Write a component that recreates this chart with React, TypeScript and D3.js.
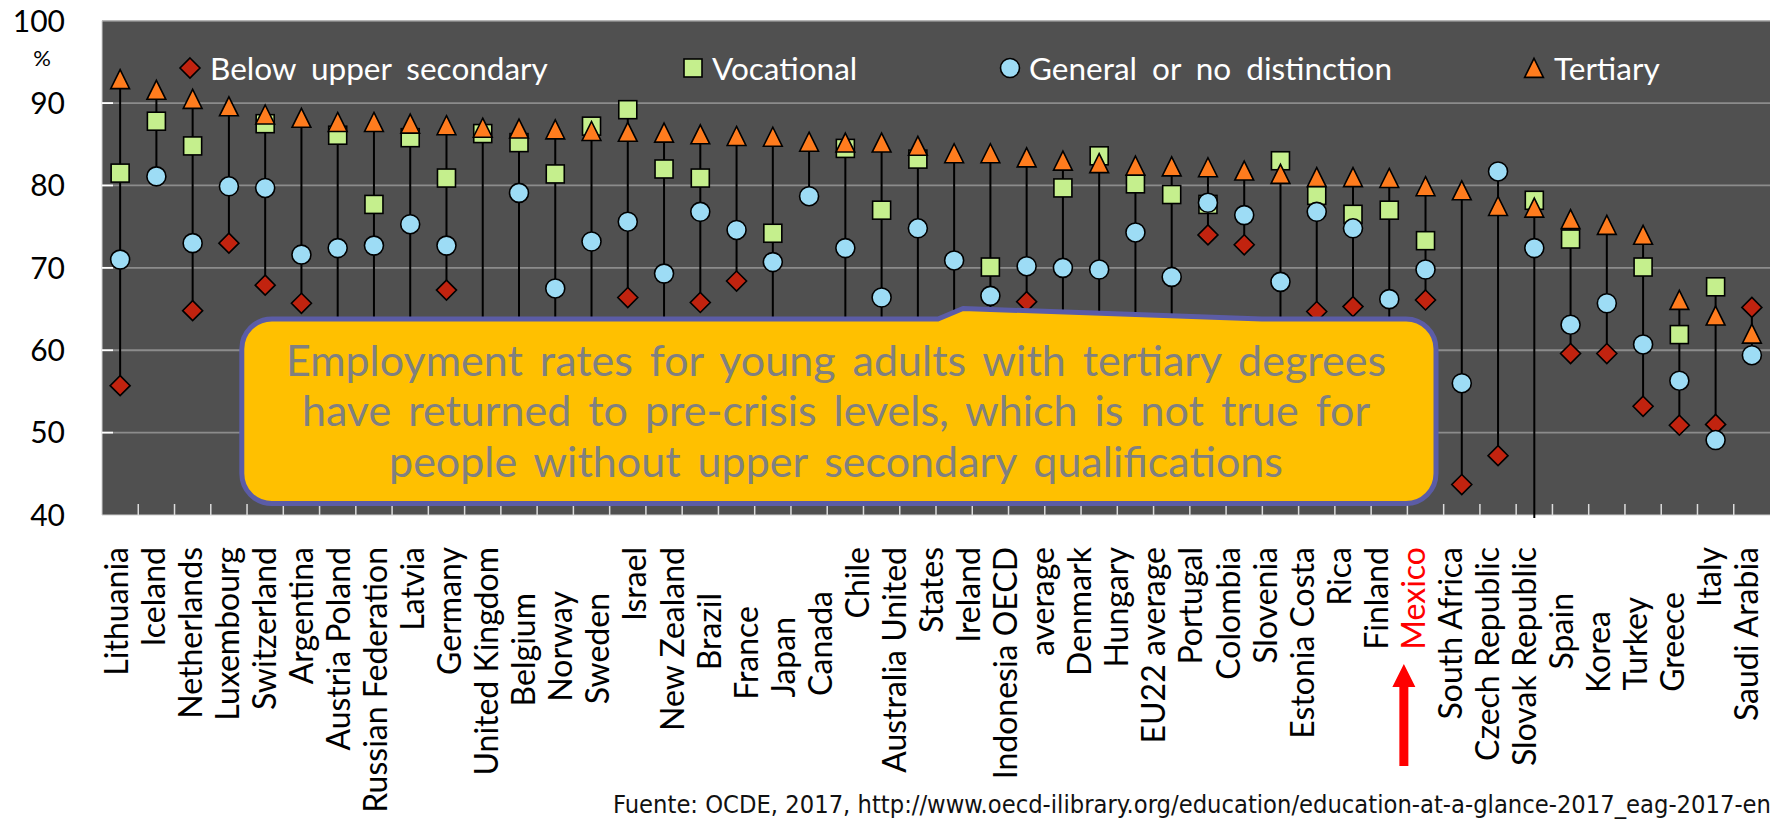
import React from "react";
import * as d3 from "d3";

// ---------- DATA ----------
const countries = [
  "Lithuania", "Iceland", "Netherlands", "Luxembourg", "Switzerland", "Argentina",
  "Austria", "Poland", "Russian Federation", "Latvia", "Germany", "United Kingdom",
  "Belgium", "Norway", "Sweden", "Israel", "New Zealand", "Brazil", "France", "Japan",
  "Canada", "Chile", "Australia", "United States", "Ireland", "Indonesia", "OECD average",
  "Denmark", "Hungary", "EU22 average", "Portugal", "Colombia", "Slovenia", "Estonia",
  "Costa Rica", "Finland", "Mexico", "South Africa", "Czech Republic", "Slovak Republic",
  "Spain", "Korea", "Turkey", "Greece", "Italy", "Saudi Arabia",
];

const tertiary = [
  92.9, 91.6, 90.5, 89.6, 88.6, 88.2, 87.7, 87.7, 87.5, 87.3, 87.0, 86.9,
  86.8, 86.6, 86.5, 86.4, 86.2, 86.0, 85.9, 85.3, 85.2, 85.2, 84.8, 83.9,
  83.9, 83.4, 83.0, 82.7, 82.4, 82.3, 82.2, 81.8, 81.4, 81.0, 81.0, 80.9,
  79.9, 79.4, 77.5, 77.3, 75.9, 75.2, 74.0, 66.1, 64.2, 62.0,
];

const vocational: (number | null)[] = [
  81.5, 87.8, 84.8, null, 87.5, null, 86.1, 77.7, 85.8, 80.9, 86.3, 85.2,
  81.4, 87.2, 89.2, 82.0, 80.9, null, 74.2, null, 84.5, 77.0, 83.2, null,
  70.1, null, 79.7, 83.6, 80.2, 78.9, 77.7, null, 83.0, 78.8, 76.5, 77.0,
  73.3, null, null, 78.2, 73.5, null, 70.1, 61.9, 67.7, null,
];

const general: (number | null)[] = [
  71.0, 81.1, 73.0, 79.9, 79.7, 71.6, 72.4, 72.7, 75.3, 72.7, null, 79.1,
  67.5, 73.2, 75.6, 69.3, 76.8, 74.6, 70.7, 78.7, 72.4, 66.4, 74.8, 70.9,
  66.6, 70.2, 70.0, 69.8, 74.3, 68.9, 77.9, 76.4, 68.3, 76.8, 74.8, 66.2,
  69.8, 56.0, 81.7, 72.4, 63.1, 65.7, 60.7, 56.3, 49.1, 59.4,
];

const belowUpper: (number | null)[] = [
  55.7, null, 64.8, 73.0, 67.9, 65.7, 53.0, 47.0, 52.0, 67.3, 58.0, 61.0,
  47.0, 59.0, 66.4, 58.0, 65.8, 68.4, 52.0, null, 55.0, 61.0, 58.0, 56.0,
  52.0, 65.9, 58.0, 56.0, 55.0, 55.0, 74.0, 72.8, 56.0, 64.7, 65.3, 50.0,
  66.1, 43.7, 47.2, 38.5, 59.6, 59.6, 53.2, 50.9, 51.0, 65.2,
];

// axis labels as they appear (wrapped text merged in the original)
const axisLabels = [
  "Lithuania", "Iceland", "Netherlands", "Luxembourg", "Switzerland", "Argentina",
  "Austria Poland", "Russian Federation", "Latvia", "Germany", "United Kingdom",
  "Belgium", "Norway", "Sweden", "Israel", "New Zealand", "Brazil", "France", "Japan",
  "Canada", "Chile", "Australia United", "States", "Ireland", "Indonesia OECD", "average",
  "Denmark", "Hungary", "EU22 average", "Portugal", "Colombia", "Slovenia", "Estonia Costa",
  "Rica", "Finland", "Mexico", "South Africa", "Czech Republic", "Slovak Republic",
  "Spain", "Korea", "Turkey", "Greece", "Italy", "Saudi Arabia",
];
const highlightLabel = "Mexico";

const yTicks = [40, 50, 60, 70, 80, 90, 100];
const gridTicks = [50, 60, 70, 80, 90];

const legendNames = ["Below upper secondary", "Vocational", "General or no distinction", "Tertiary"];

const calloutLines = [
  "Employment rates for young adults with tertiary degrees",
  "have returned to pre-crisis levels, which is not true for",
  "people without upper secondary qualifications",
];

const sourceText =
  "Fuente: OCDE, 2017, http://www.oecd-ilibrary.org/education/education-at-a-glance-2017_eag-2017-en";

// ---------- LAYOUT (not data) ----------
const W = 1775;
const H = 821;
const M = { left: 102, right: 1770, top: 20.7, bottom: 515 };
// vertical drop of some wrapped axis labels (px)
const labelDrop = [
  0, 0, 0, 0, 0, 0, 0, 0, 0, 0, 0, 46, 44, 46, 0, 0, 46, 59, 70, 44, 0, 0, 0,
  0, 0, 0, 0, 0, 0, 0, 0, 0, 0, 0, 0, 0, 0, 0, 0, 46, 64, 50, 45, 0, 0,
];

const FONT = "Lato, 'Open Sans', sans-serif";
const COLORS = {
  bg: "#505050",
  grid: "#8c8c8c",
  diamond: "#C1230F",
  square: "#C5EF8D",
  circle: "#9DDCF5",
  triangle: "#FF7C1E",
};

const diamondPath = "M0,-10L10,0L0,10L-10,0Z";
const trianglePath = "M0,-9.6L9.4,9.4L-9.4,9.4Z";

function Marker({ kind, x, y }: { kind: string; x: number; y: number }) {
  const common = { stroke: "#000", strokeWidth: 1.6 };
  if (kind === "diamond")
    return <path d={diamondPath} transform={`translate(${x},${y})`} fill={COLORS.diamond} {...common} />;
  if (kind === "square")
    return <rect x={x - 9} y={y - 9} width={18} height={18} fill={COLORS.square} {...common} />;
  if (kind === "circle") return <circle cx={x} cy={y} r={9.5} fill={COLORS.circle} {...common} />;
  return <path d={trianglePath} transform={`translate(${x},${y})`} fill={COLORS.triangle} {...common} />;
}

export default function App() {
  const x = d3.scaleBand<string>().domain(countries).range([M.left, M.right]);
  const y = d3.scaleLinear().domain([40, 100]).range([M.bottom, M.top]);
  const xl = d3.scaleBand<string>().domain(axisLabels).range([M.left, M.right]);
  const cx = (c: string) => (x(c) as number) + x.bandwidth() / 2;

  const series = [
    { kind: "diamond", values: belowUpper },
    { kind: "square", values: vocational },
    { kind: "circle", values: general },
    { kind: "triangle", values: tertiary as (number | null)[] },
  ];

  const ranges = countries.map((c, i) => {
    const vals = series.map((s) => s.values[i]).filter((v): v is number => v != null);
    return { c, lo: d3.min(vals) as number, hi: d3.max(vals) as number };
  });

  // legend positions
  const legendMarkX = [190, 693, 1010, 1534];
  const legendTextX = [210, 712, 1029, 1554];
  const legendKinds = ["diamond", "square", "circle", "triangle"];

  // callout geometry
  const cb = { l: 241.8, r: 1436, t: 319, b: 503.5, rad: 30 };
  const calloutPath = [
    `M${cb.l + cb.rad},${cb.t}`,
    `L938,${cb.t}`,
    `L963,${cb.t - 10.5}`,
    `L1262,${cb.t}`,
    `L${cb.r - cb.rad},${cb.t}`,
    `A${cb.rad},${cb.rad} 0 0 1 ${cb.r},${cb.t + cb.rad}`,
    `L${cb.r},${cb.b - cb.rad}`,
    `A${cb.rad},${cb.rad} 0 0 1 ${cb.r - cb.rad},${cb.b}`,
    `L${cb.l + cb.rad},${cb.b}`,
    `A${cb.rad},${cb.rad} 0 0 1 ${cb.l},${cb.b - cb.rad}`,
    `L${cb.l},${cb.t + cb.rad}`,
    `A${cb.rad},${cb.rad} 0 0 1 ${cb.l + cb.rad},${cb.t}`,
    "Z",
  ].join(" ");

  const boundaries = x.domain().slice(1).map((c) => x(c) as number);

  const mexX = (xl(highlightLabel) as number) + xl.bandwidth() / 2 - 14;

  return (
    <svg
      width={W}
      height={H}
      viewBox={`0 0 ${W} ${H}`}
      style={{ position: "absolute", left: 0, top: 0, display: "block", background: "#fff" }}
    >
      <defs>
        <clipPath id="plotClip">
          <rect x={M.left} y={M.top} width={M.right - M.left} height={M.bottom - M.top} />
        </clipPath>
        <clipPath id="lineClip">
          <rect x={M.left} y={M.top} width={M.right - M.left} height={M.bottom - M.top + 3} />
        </clipPath>
      </defs>

      {/* plot background */}
      <rect x={M.left} y={M.top} width={M.right - M.left} height={M.bottom - M.top} fill={COLORS.bg} />
      {gridTicks.map((t) => (
        <line key={t} x1={M.left} x2={M.right} y1={y(t)} y2={y(t)} stroke={COLORS.grid} strokeWidth={1.8} />
      ))}
      <line x1={M.left} x2={M.right} y1={M.top} y2={M.top} stroke="#b5b5b5" strokeWidth={1.5} />
      <line x1={M.left} x2={M.left} y1={M.top} y2={M.bottom} stroke="#cfcfcf" strokeWidth={1} />
      <line x1={M.left} x2={M.right} y1={M.bottom} y2={M.bottom} stroke="#cfcfcf" strokeWidth={1} />
      {gridTicks.map((t) => (
        <line key={"yt" + t} x1={M.left} x2={M.left + 11} y1={y(t)} y2={y(t)} stroke="#fff" strokeWidth={1.8} />
      ))}
      {boundaries.map((b, i) => (
        <line key={"xt" + i} x1={b} x2={b} y1={M.bottom - 11} y2={M.bottom} stroke="#dcdcdc" strokeWidth={1.5} />
      ))}

      {/* high-low lines */}
      <g clipPath="url(#lineClip)">
        {ranges.map((r) => (
          <line key={"hl" + r.c} x1={cx(r.c)} x2={cx(r.c)} y1={y(r.hi)} y2={y(r.lo)} stroke="#000" strokeWidth={2} />
        ))}
      </g>

      {/* markers */}
      <g clipPath="url(#plotClip)">
        {series.map((s) =>
          countries.map((c, i) =>
            s.values[i] == null ? null : (
              <Marker key={s.kind + c} kind={s.kind} x={cx(c)} y={y(s.values[i] as number)} />
            )
          )
        )}
      </g>

      {/* legend */}
      {legendNames.map((n, i) => (
        <g key={n}>
          <Marker kind={legendKinds[i]} x={legendMarkX[i]} y={68} />
          <text x={legendTextX[i]} y={80} fill="#fff" fontFamily={FONT} fontSize={31.5} wordSpacing={7}>
            {n}
          </text>
        </g>
      ))}

      {/* callout */}
      <path d={calloutPath} fill="#FFC000" stroke="#5B5CA6" strokeWidth={5} strokeLinejoin="round" />
      {calloutLines.map((l, i) => (
        <text
          key={i}
          x={836}
          y={376 + i * 50.3}
          textAnchor="middle"
          fill="#808080"
          fontFamily={FONT}
          fontSize={43}
          wordSpacing={6}
        >
          {l}
        </text>
      ))}

      {/* y axis labels */}
      {yTicks.map((t) => (
        <text key={"yl" + t} x={65} y={y(t) + 10.8} textAnchor="end" fill="#000" fontFamily={FONT} fontSize={30}>
          {t}
        </text>
      ))}
      <text x={42} y={66} textAnchor="middle" fill="#000" fontFamily={FONT} fontSize={22}>
        %
      </text>

      {/* x axis labels */}
      {axisLabels.map((l, i) => {
        const bx = (xl(l) as number) + xl.bandwidth() / 2 + 7;
        const ty = 547 + labelDrop[i];
        return (
          <text
            key={"xl" + i}
            transform={`translate(${bx},${ty}) rotate(-90)`}
            textAnchor="end"
            fill={l === highlightLabel ? "#FF0000" : "#000"}
            fontFamily={FONT}
            fontSize={32}
          >
            {l}
          </text>
        );
      })}

      {/* red arrow */}
      <path
        d={`M${mexX},664 L${mexX + 11.5},687 L${mexX + 4.5},687 L${mexX + 4.5},766 L${mexX - 4.5},766 L${mexX - 4.5},687 L${mexX - 11.5},687 Z`}
        fill="#FF0000"
      />

      {/* source */}
      <text
        x={613}
        y={813}
        fill="#111"
        fontFamily="'Liberation Sans Narrow', 'DejaVu Sans Condensed', 'Open Sans', sans-serif"
        fontSize={25}
        textLength={1158}
        lengthAdjust="spacingAndGlyphs"
      >
        {sourceText}
      </text>
    </svg>
  );
}
